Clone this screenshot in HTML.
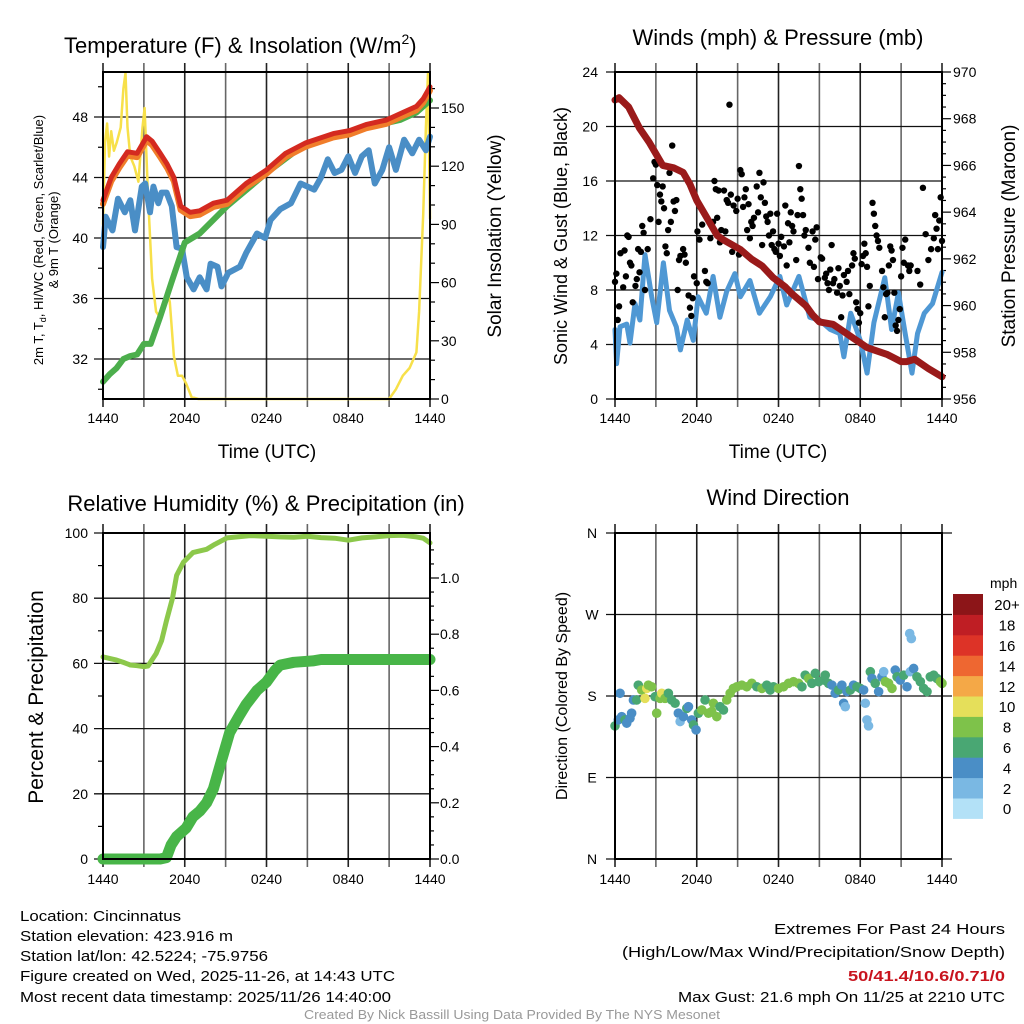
<!DOCTYPE html>
<html><head><meta charset="utf-8"><style>
html,body{margin:0;padding:0;background:#fff}
svg{display:block;font-family:"Liberation Sans",sans-serif}
</style></head><body>
<svg id="svg" width="1024" height="1024" viewBox="0 0 1024 1024">
<rect width="1024" height="1024" fill="#fff"/>
<g id="g"></g>
</svg>
<script>
// ---------- DATA ----------
const hourTicks=[0,6,12,18,24];
const hourLabels=["1440","2040","0240","0840","1440"];
// Temperature panel
const tempT=[0,0.6,1.2,1.8,2.5,3.2,3.6,4.2,4.7,5.2,5.7,6.4,7.1,8.1,9.1,10.5,12,13.4,14.9,16.9,18.1,19.3,20.8,22,23,23.5,24];
const tempRed=[42.5,44,44.9,45.7,45.6,46.7,46.4,45.6,44.9,44,42.1,41.7,41.8,42.3,42.5,43.6,44.5,45.6,46.3,46.9,47.1,47.5,47.8,48.3,48.7,49.2,50];
const dewT=[0,0.5,1,1.5,2,2.5,3,3.5,4.2,5,6,7.1,9.1,12,14.5,16.9,19.3,21.8,23,24];
const dewGreen=[30.5,31.0,31.4,32.0,32.2,32.3,33.0,33.0,34.8,37,39.7,40.3,42.1,44.3,46,46.7,47.3,47.8,48.3,49.1];
const blueT=[0,0.2,0.7,1.1,1.6,2.0,2.35,2.85,3.1,3.45,3.7,4.06,4.3,4.67,5.05,5.4,5.8,6.15,6.65,7.1,7.6,7.9,8.4,8.7,9.2,10.05,10.5,11.3,11.9,12.3,13,13.8,14.5,15.5,16,16.5,17,17.5,18,18.5,19,19.5,19.95,20.5,21,21.5,22.1,22.7,23.2,23.7,24];
const blueVal=[39.4,41.4,40.5,42.6,41.7,42.5,40.5,43.4,43.6,41.7,43.4,42.3,43,43,42.1,39.4,39.3,37.4,36.6,37.4,36.6,38.3,38.1,36.8,37.7,38.1,39,40.3,40,41.2,41.9,42.3,43.6,43.2,44,45.2,44.3,44.5,45.4,44.3,45.4,45.8,43.6,44.5,46,44.5,46.5,45.6,46.5,45.8,46.7];
const solT=[0,0.15,0.3,0.45,0.6,0.8,1,1.3,1.5,1.65,1.8,2,2.3,2.6,2.9,3.05,3.3,3.6,3.9,4.2,4.5,4.7,4.9,5.2,5.5,5.8,6.1,6.5,7,10,15,20,21,21.5,22,22.5,23,23.2,23.5,23.7,23.85,24];
const solVal=[90,132,142,125,138,128,132,140,160,168,140,125,120,112,140,150,105,62,45,42,48,56,50,22,12,12,8,1,0,0,0,0,0,5,12,16,24,45,95,140,168,93];
// Wind panel
const windT=[0,0.12,0.37,0.86,1.1,1.47,1.83,2.2,2.69,3.06,3.55,4.0,4.5,4.8,5.3,5.75,6.1,6.7,7.2,7.7,8.2,8.8,9.2,9.9,10.6,11.4,12.1,12.6,13.5,14.3,15.0,15.8,16.5,16.8,17.3,18.0,18.5,19,19.8,20.3,20.8,21.3,21.8,22.2,22.7,23.3,24];
const windVal=[5.1,2.6,5.3,5.5,4.1,7,5.8,10.6,7.5,5.6,10,6.5,5.3,3.6,5.8,4.3,7.5,6.3,9,6,7.9,9.2,7.5,8.7,6.3,7.5,9,6.9,9,6,5.8,5.1,4.8,3.1,6.3,4.3,1.9,5.6,8.9,5.1,7.8,4.8,1.9,4.8,6.3,7,9.3];
const presT=[0,0.3,1,1.8,2.5,3,3.5,4.3,5,5.5,6,6.7,7.5,8,9.2,10,10.8,11.6,12.5,13,14,14.5,15,16,16.5,17.5,18,18.5,19,20,21,21.4,22,23,24];
const presVal=[968.8,968.9,968.5,967.6,967,966.5,966,965.9,965.7,965.2,964.5,963.8,963,962.8,962.4,962,961.7,961.2,960.8,960.5,960,959.6,959.3,959.2,959.0,958.6,958.4,958.2,958.1,957.9,957.6,957.6,957.7,957.3,956.95];
const gustT=[0,0.1,0.2,0.3,0.4,0.6,0.7,0.8,0.9,1,1.1,1.2,1.3,1.5,1.6,1.7,1.8,1.9,2,2.1,2.2,2.4,2.6,2.8,2.9,3,3.1,3.2,3.3,3.4,3.5,3.6,3.7,3.8,3.9,4,4.1,4.2,4.3,4.4,4.5,4.6,4.7,4.8,5,5.1,5.2,5.4,5.5,5.6,5.7,5.8,6,6.05,6.2,6.4,6.6,6.7,6.8,7,7.2,7.3,7.4,7.5,7.6,7.7,7.8,8,8.1,8.2,8.3,8.4,8.5,8.6,8.7,8.9,9,9.1,9.2,9.3,9.4,9.5,9.6,9.7,9.8,9.9,10,10.1,10.2,10.4,10.5,10.6,10.7,10.8,10.9,11,11.1,11.2,11.3,11.4,11.5,11.6,11.7,11.8,11.9,12,12.1,12.2,12.4,12.5,12.6,12.7,12.8,12.9,13,13.1,13.3,13.4,13.5,13.6,13.7,13.8,13.9,14,14.2,14.3,14.5,14.6,14.7,14.8,14.9,15.1,15.2,15.4,15.5,15.6,15.7,15.8,15.9,16,16.1,16.3,16.4,16.5,16.6,16.7,16.8,17,17.1,17.2,17.4,17.5,17.6,17.7,17.8,17.9,18,18.1,18.2,18.3,18.4,18.5,18.6,18.7,18.9,19,19.1,19.2,19.3,19.4,19.6,19.7,19.8,19.9,20,20.1,20.2,20.3,20.4,20.5,20.6,20.7,20.8,20.9,21,21.1,21.2,21.3,21.5,21.6,21.7,22.2,22.4,22.6,22.8,23.0,23.2,23.4,23.5,23.6,23.7,23.8,23.9,24];
const gustVal=[8.6,9.2,5.8,6.8,10.7,8.2,10.9,9,12,11.9,10,9.8,7.1,8.3,8.8,11,9.3,10.8,12.7,12.2,8,11,13.2,16.2,17.4,17.2,15.7,13,15,14.5,15.6,14,11.2,10.7,12.4,16.6,13,18.6,14.5,13.8,14.6,8,10.2,10.5,11,10.6,10,7.6,6.7,6.1,7.4,9,8.5,12.3,11.7,12.8,9.4,8.6,8.5,11.8,13,16,15.4,13.3,15.3,11.5,12.4,15.3,12.3,14.6,14.4,21.6,15,10.8,14.2,13.8,14.7,10.6,16.8,16.5,14.1,14.8,15.4,12.4,14.3,11.8,13,12.7,13.3,15.6,13.7,16.6,14.8,11.3,15.9,14.4,13.4,13,12,13.6,11.3,12.3,11,10.8,13.6,11.4,10.5,11.9,11.2,14.2,9.8,12.9,11.5,13.7,12.7,12.3,10.2,13.5,17.1,15.4,14.7,13.5,12,12.4,11.1,10,12.3,9.7,11.7,12.6,8.8,10.4,10.3,8.9,9.2,8.5,8,9.5,11.3,8.5,8.8,7.8,9.6,8.3,6,7.6,9.1,8.6,9.4,7.7,9.8,10.7,10.3,7.1,6.6,5.6,6.3,9.9,10.5,11.4,10.7,9.7,6.8,8.3,14.4,13.6,12.7,12,11.6,11.1,9.4,8.2,6,7.7,7.8,9.8,11.2,10.9,10.2,7.8,5.4,5,5.8,6.6,9,11.1,10,11.7,9.8,9.4,9.8,9.4,8.4,15.5,12.1,10.2,11,11.8,13.5,12.5,11,13.1,14.8,11.6];
// RH / precip panel
const rhT=[0,1,1.5,2,2.5,3,3.3,3.9,4.3,4.65,5.1,5.4,5.9,6.6,7.1,7.6,8.2,9.1,10.8,12,13,14,15,16,17,18,19,20,21,22,23,23.5,24];
const rhVal=[62,61,60.3,59.5,59.3,59,59.2,63,67,73,80,87,91,94,94.5,95,96.5,98.5,99.2,99,98.8,98.7,99,98.6,98.4,97.8,98.5,98.8,99.2,99.3,98.8,98.4,97];
const pcpT=[0,4.2,4.65,5.0,5.4,6.1,6.6,7.1,7.6,8.1,8.7,9.3,10,10.5,11.3,12,12.6,13,14,15.4,16,24];
const pcpVal=[0,0,0.005,0.05,0.08,0.11,0.15,0.17,0.2,0.25,0.35,0.45,0.51,0.55,0.6,0.63,0.67,0.69,0.70,0.705,0.71,0.71];
// Wind direction panel
const dirT=[0,0.24,0.37,0.49,0.73,0.86,1.10,1.22,1.35,1.59,1.71,1.96,2.20,2.33,2.45,2.69,2.94,3.06,3.31,3.43,3.67,3.92,4.16,4.41,4.65,4.78,5.02,5.27,5.39,5.63,5.76,5.95,6.12,6.37,6.61,6.86,7.10,7.22,7.47,7.71,7.96,8.20,8.45,8.69,8.94,9.31,9.67,10.04,10.41,10.78,11.14,11.39,11.63,12.0,12.37,12.74,13.10,13.47,13.72,13.96,14.21,14.45,14.70,14.94,15.31,15.43,15.67,15.92,16.16,16.41,16.65,16.78,16.90,17.02,17.27,17.51,17.76,18.0,18.25,18.37,18.49,18.61,18.74,18.86,19.1,19.35,19.59,19.72,19.84,20.08,20.33,20.57,20.7,20.94,21.19,21.43,21.63,21.75,21.67,21.92,22.16,22.41,22.65,22.9,23.14,23.39,23.63,23.88,24.0];
const dirVal=[147,153.6,183,157.2,153.6,150,155.4,161,175.6,175.6,192,186.6,177.4,188.4,192,190.2,179.2,161,177.4,183,177.4,183,175.6,172,161,151.8,157.2,166.4,168.2,153.6,148,142.6,161,164.6,175.6,161,162.8,172,157.2,168.2,164.6,175.6,183,188.4,190.2,192,190.2,194,190.2,188.4,192,186.6,190.2,188.4,190.2,194,195.8,194,190.2,203,199.4,194,205,195.8,197.6,203,194,192,183,186.6,192,172,168.2,184.8,186.6,192,190.2,188.4,186.6,172,153.6,147,206.8,199.4,194,184.8,201.2,206.8,195.8,194,188.4,208.6,201.2,197.6,203,190.2,249,243.4,206.8,210.4,201.2,195.8,188.4,184.8,201.2,203,199.4,195.8,194];
const dirSpd=[7,5,5,5,7,5,5,5,5,7,7,9,11,11,9,9,7,9,9,11,9,7,7,7,5,3,5,7,5,5,7,5,7,9,7,9,9,9,9,7,7,9,9,9,9,9,9,9,7,9,7,7,7,9,9,9,9,9,7,7,9,7,7,7,7,7,7,5,5,7,5,5,3,5,7,5,7,7,5,3,3,3,7,5,7,5,5,3,9,9,9,5,7,5,7,5,3,3,3,5,7,7,7,7,7,7,7,9,9];
const spdColors=["#b3e1f7","#7ab8e3","#4a8ec6","#49a773","#7ec24a","#e5df5a","#f4a847","#ee6731","#dd3327","#bf1e24","#8c1518"];
const cbLabels=["0","2","4","6","8","10","12","14","16","18","20+"];

// ---------- DRAWING ----------
const NS="http://www.w3.org/2000/svg";
const G=document.getElementById('g');
function el(tag,attrs,parent){const e=document.createElementNS(NS,tag);for(const k in attrs)e.setAttribute(k,attrs[k]);(parent||G).appendChild(e);return e;}
function txt(s,attrs,parent){const e=el('text',attrs,parent);e.textContent=s;return e;}
function lin(d0,d1,p0,p1){return v=>p0+(v-d0)/(d1-d0)*(p1-p0);}

const L1=103,R1=430,L2=615,R2=942,T1=72,B1=399,T2=533,B2=859;

function frame(L,R,T,B,name){
  const g=el('g',{});
  
  
  const x=lin(0,24,L,R);
  for(let h=0;h<=24;h+=3){el('line',{x1:x(h),x2:x(h),y1:T-9,y2:B+8,stroke:(h%6?'#666':'#222'),'stroke-width':1.6},g);}
  return {g,x};
}
function hgrid(g,L,R,y,v){el('line',{x1:L-9,x2:R,y1:y(v),y2:y(v),stroke:'#111','stroke-width':1.3},g);}
function border(L,R,T,B,name){const r=el('rect',{x:L,y:T,width:R-L,height:B-T,fill:'none',stroke:'#000','stroke-width':2});}
function xlabels(x,y,name){hourTicks.forEach((h,i)=>{const t=txt(hourLabels[i],{x:x(h),y:y,'font-size':14,'text-anchor':'middle'});});}
function path(xs,ys,fx,fy,stroke,w,name){
  let d='';xs.forEach((t,i)=>{d+=(i?'L':'M')+fx(t).toFixed(1)+','+fy(ys[i]).toFixed(1);});
  const p=el('path',{d:d,fill:'none',stroke:stroke,'stroke-width':w,'stroke-linejoin':'round','stroke-linecap':'round'});
  return p;
}
function rtick(g,R,y,len){el('line',{x1:R,x2:R+len,y1:y,y2:y,stroke:'#000','stroke-width':1.2},g);}
function ltick(g,L,y,len){el('line',{x1:L-len,x2:L,y1:y,y2:y,stroke:'#000','stroke-width':1.2},g);}

// ===== Panel 1: Temperature =====
{
  const {g,x}=frame(L1,R1,T1,B1,'temperature');
  const y=lin(32,48,359,117);
  const ys=lin(0,150,399,108);
  [32,36,40,44,48].forEach(v=>{hgrid(g,L1,R1,y,v);const t=txt(String(v),{x:88,y:y(v)+5,'font-size':14,'text-anchor':'end'});});
  [30,34,38,42,46,50].forEach(v=>ltick(g,L1,y(v),5));
  for(let v=0;v<=160;v+=10){rtick(g,R1,ys(v),v%30?5:9);}
  [0,30,60,90,120,150].forEach(v=>{const t=txt(String(v),{x:441,y:ys(v)+5,'font-size':14});});
  path(solT,solVal,x,ys,'#f7e04a',2.5,'insolation-line');
  path(blueT,blueVal,x,y,'#4a8ec6',6,'windchill-line');
  path(dewT,dewGreen,x,y,'#4cae4c',6,'dewpoint-line');
  path(tempT,tempRed.map(v=>v-0.25),x,y,'#f07d2a',6,'9m-temp-line');
  path(tempT,tempRed,x,y,'#d42a20',5,'temperature-line');
  border(L1,R1,T1,B1,'temperature');
  xlabels(x,423,'temperature');
  let t=txt('Temperature (F) & Insolation (W/m',{x:64,y:53,'font-size':22});
  const ts=el('tspan',{dy:-9,'font-size':14},t);ts.textContent='2';
  const ts2=el('tspan',{dy:9},t);ts2.textContent=')';
  t=txt('Time (UTC)',{x:267,y:458,'font-size':19,'text-anchor':'middle'});
  t=txt('',{transform:'translate(43,240) rotate(-90)','font-size':13,'text-anchor':'middle'});
  t.innerHTML='2m T, T<tspan font-size="9" dy="3">d</tspan><tspan dy="-3">, HI/WC (Red, Green, Scarlet/Blue)</tspan>';
  t=txt('& 9m T (Orange)',{transform:'translate(58,240) rotate(-90)','font-size':13,'text-anchor':'middle'});
  t=txt('Solar Insolation (Yellow)',{transform:'translate(501,236) rotate(-90)','font-size':19,'text-anchor':'middle'});
}
// ===== Panel 2: Winds =====
{
  const {g,x}=frame(L2,R2,T1,B1,'winds');
  const y=lin(0,24,399,72);
  const yp=lin(956,970,399,72);
  [0,4,8,12,16,20,24].forEach(v=>{hgrid(g,L2,R2,y,v);const t=txt(String(v),{x:598,y:y(v)+5,'font-size':14,'text-anchor':'end'});});
  for(let v=956;v<=970;v+=0.5){rtick(g,R2,yp(v),v%2?4:9);}
  [956,958,960,962,964,966,968,970].forEach(v=>{const t=txt(String(v),{x:953,y:yp(v)+5,'font-size':14});});
  path(windT,windVal,x,y,'#4f98d4',5,'wind-speed-line');
  gustT.forEach((t,i)=>{const c=el('circle',{cx:x(t),cy:y(gustVal[i]),r:3.2,fill:'#000'});});
  path(presT,presVal,x,yp,'#9a1a1a',7,'pressure-line');
  border(L2,R2,T1,B1,'winds');
  xlabels(x,423,'winds');
  let t=txt('Winds (mph) & Pressure (mb)',{x:778,y:45,'font-size':22,'text-anchor':'middle'});
  t=txt('Time (UTC)',{x:778,y:458,'font-size':19,'text-anchor':'middle'});
  t=txt('Sonic Wind & Gust (Blue, Black)',{transform:'translate(567,236) rotate(-90)','font-size':18,'text-anchor':'middle'});
  t=txt('Station Pressure (Maroon)',{transform:'translate(1015,236) rotate(-90)','font-size':19,'text-anchor':'middle'});
}
// ===== Panel 3: RH / Precip =====
{
  const {g,x}=frame(L1,R1,T2,B2,'humidity');
  const y=lin(0,100,859,533);
  const yp=lin(0,1,859,578);
  [0,20,40,60,80,100].forEach(v=>{hgrid(g,L1,R1,y,v);const t=txt(String(v),{x:88,y:y(v)+5,'font-size':14,'text-anchor':'end'});});
  [10,30,50,70,90].forEach(v=>ltick(g,L1,y(v),5));
  for(let v=0;v<=1.15;v+=0.05){rtick(g,R1,yp(v),(Math.round(v*100)%20)?4:9);}
  ['0.0','0.2','0.4','0.6','0.8','1.0'].forEach(s=>{const t=txt(s,{x:440,y:yp(+s)+5,'font-size':14});});
  path(rhT,rhVal,x,y,'#8cc84b',5,'rh-line');
  path(pcpT,pcpVal,x,yp,'#48b548',11,'precip-line');
  border(L1,R1,T2,B2,'humidity');
  xlabels(x,884,'humidity');
  let t=txt('Relative Humidity (%) & Precipitation (in)',{x:266,y:511,'font-size':22,'text-anchor':'middle'});
  t=txt('Percent & Precipitation',{transform:'translate(43,697) rotate(-90)','font-size':21,'text-anchor':'middle'});
}
// ===== Panel 4: Wind Direction =====
{
  const {g,x}=frame(L2,R2,T2,B2,'direction');
  const y=lin(0,360,859,533);
  const dl=['N','E','S','W','N'];
  [0,90,180,270,360].forEach((v,i)=>{hgrid(g,L2,R2+10,y,v);const t=txt(dl[i],{x:592,y:y(v)+5,'font-size':14,'text-anchor':'middle'});});
  dirT.forEach((t,i)=>{const b=Math.min(10,Math.floor(dirSpd[i]/2));const c=el('circle',{cx:x(t),cy:y(dirVal[i]),r:4.8,fill:spdColors[b]});});
  border(L2,R2,T2,B2,'direction');
  xlabels(x,884,'direction');
  let t=txt('Wind Direction',{x:778,y:505,'font-size':22,'text-anchor':'middle'});
  t=txt('Direction (Colored By Speed)',{transform:'translate(567,696) rotate(-90)','font-size':16,'text-anchor':'middle'});
  const cb=el('g',{});
  const bh=20.4;
  for(let i=0;i<11;i++){const yy=594+(10-i)*bh;el('rect',{x:953,y:yy,width:30,height:bh+0.5,fill:spdColors[i]},cb);
    const tl=txt(cbLabels[i],{x:1007,y:yy+bh/2+6,'font-size':15,'text-anchor':'middle'},cb);}
  t=txt('mph',{x:990,y:588,'font-size':14});
}
// ===== Footer =====
{
  const L=[['Location: Cincinnatus',921,161],['Station elevation: 423.916 m',941,213],['Station lat/lon: 42.5224; -75.9756',961,248],['Figure created on Wed, 2025-11-26, at 14:43 UTC',981,375],['Most recent data timestamp: 2025/11/26 14:40:00',1002,371]];
  L.forEach(a=>{const t=txt(a[0],{x:20,y:a[1],'font-size':15,textLength:a[2],lengthAdjust:'spacingAndGlyphs'});});
  const R=[['Extremes For Past 24 Hours',934,231,'#000'],['(High/Low/Max Wind/Precipitation/Snow Depth)',957,383,'#000'],['50/41.4/10.6/0.71/0',981,157,'#c8141e'],['Max Gust: 21.6 mph On 11/25 at 2210 UTC',1002,327,'#000']];
  R.forEach((a,i)=>{const t=txt(a[0],{x:1005-a[2],y:a[1],'font-size':15,fill:a[3],'font-weight':i==2?'bold':'normal',textLength:a[2],lengthAdjust:'spacingAndGlyphs'});});
  const t=txt('Created By Nick Bassill Using Data Provided By The NYS Mesonet',{x:304,y:1019,'font-size':13,fill:'#999',textLength:416,lengthAdjust:'spacingAndGlyphs'});
}
</script>
</body></html>
